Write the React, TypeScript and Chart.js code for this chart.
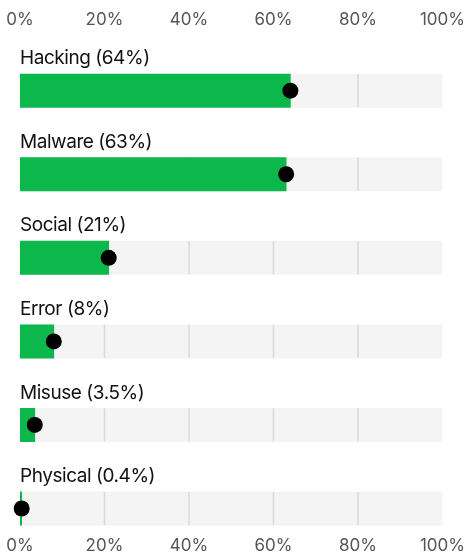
import { useEffect, useRef } from 'react';
import { Chart, registerables } from 'chart.js';

Chart.register(...registerables);

const categories = ['Hacking', 'Malware', 'Social', 'Error', 'Misuse', 'Physical'];
const valueLabels = ['64%', '63%', '21%', '8%', '3.5%', '0.4%'];
const values = [64, 63, 21, 8, 3.5, 0.4];
const trackValues = [100, 100, 100, 100, 100, 100];
const gridValues = [20, 40, 60, 80];

const FONT = 'Inter, "Noto Sans", sans-serif';

export default function App() {
  const ref = useRef<HTMLCanvasElement | null>(null);

  useEffect(() => {
    document.body.style.margin = '0';
    const canvas = ref.current;
    if (!canvas) return;

    const trackGrid = {
      id: 'trackGrid',
      afterDatasetDraw(chart: any, args: any) {
        if (args.index !== 2) return;
        const ctx = chart.ctx;
        const xs = chart.scales.x;
        const meta = chart.getDatasetMeta(2);
        ctx.save();
        ctx.strokeStyle = '#d9d9d9';
        ctx.lineWidth = 1.5;
        meta.data.forEach((bar: any) => {
          const h = bar.height;
          const top = bar.y - h / 2;
          const bottom = bar.y + h / 2;
          gridValues.forEach((v) => {
            const px = xs.getPixelForValue(v);
            ctx.beginPath();
            ctx.moveTo(px, top);
            ctx.lineTo(px, bottom);
            ctx.stroke();
          });
        });
        ctx.restore();
      },
    };

    const rowLabels = {
      id: 'rowLabels',
      afterDatasetsDraw(chart: any) {
        const ctx = chart.ctx;
        const meta = chart.getDatasetMeta(2);
        ctx.save();
        ctx.fillStyle = '#111111';
        ctx.font = `400 19px ${FONT}`;
        try {
          (ctx as any).letterSpacing = '-0.45px';
        } catch (e) {}
        ctx.textBaseline = 'alphabetic';
        ctx.textAlign = 'left';
        meta.data.forEach((bar: any, i: number) => {
          const top = bar.y - bar.height / 2;
          ctx.fillText(`${categories[i]} (${valueLabels[i]})`, chart.chartArea.left, top - 9.7);
        });
        ctx.restore();
      },
    };

    const tickFont = { family: FONT, size: 17 };
    const tickCb = (v: any) => `${v}%`;

    const chart = new Chart(canvas, {
      type: 'bar',
      data: {
        datasets: [
          {
            type: 'line',
            label: 'dot',
            indexAxis: 'y',
            data: values.map((v, i) => ({ x: v, y: i })),
            showLine: false,
            pointRadius: 8,
            pointHoverRadius: 8,
            pointBorderWidth: 0,
            pointBackgroundColor: '#000000',
            borderColor: '#000000',
            xAxisID: 'x',
            yAxisID: 'y',
            clip: false,
          } as any,
          {
            type: 'bar',
            label: 'share',
            indexAxis: 'y',
            data: values.map((v, i) => ({ x: v, y: i })),
            backgroundColor: '#0cb84b',
            barThickness: 33.3,
            grouped: false,
            xAxisID: 'x',
            yAxisID: 'y',
          } as any,
          {
            type: 'bar',
            label: 'track',
            indexAxis: 'y',
            data: trackValues.map((v, i) => ({ x: v, y: i })),
            backgroundColor: '#f4f4f4',
            barThickness: 33.3,
            grouped: false,
            xAxisID: 'x',
            yAxisID: 'y',
          } as any,
        ],
      },
      options: {
        indexAxis: 'y',
        animation: false,
        responsive: true,
        maintainAspectRatio: false,
        layout: { padding: { left: 20, top: 8.8, bottom: 0, right: 0 } },
        plugins: { legend: { display: false }, tooltip: { enabled: false } },
        scales: {
          x: {
            type: 'linear',
            position: 'top',
            min: 0,
            max: 100,
            grid: { display: false, drawTicks: false },
            border: { display: false },
            ticks: { stepSize: 20, callback: tickCb, font: tickFont, color: '#565656', padding: 1 },
          },
          x2: {
            type: 'linear',
            position: 'bottom',
            min: 0,
            max: 100,
            grid: { display: false, drawTicks: false },
            border: { display: false },
            ticks: { stepSize: 20, callback: tickCb, font: tickFont, color: '#565656', padding: 1 },
          },
          y: {
            type: 'linear',
            reverse: true,
            offset: false,
            min: -0.712,
            max: 5.312,
            display: false,
          },
        },
      } as any,
      plugins: [trackGrid, rowLabels],
    });

    return () => chart.destroy();
  }, []);

  return (
    <div style={{ width: 466, height: 557, position: 'relative' }}>
      <canvas ref={ref} />
    </div>
  );
}
